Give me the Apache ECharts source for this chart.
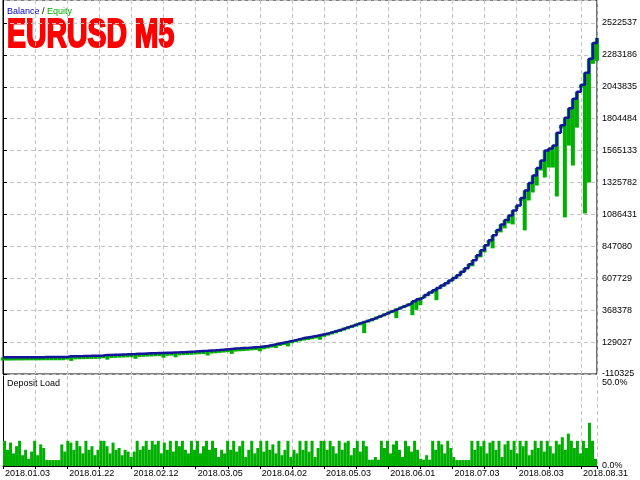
<!DOCTYPE html>
<html><head><meta charset="utf-8">
<script src="https://cdn.jsdelivr.net/npm/echarts@6/dist/echarts.min.js"></script>
<style>html,body{margin:0;padding:0;background:#fff}#c{width:640px;height:480px}</style>
</head><body><div id="c"></div>
<script>
const dateLabels = ['2018.01.03','2018.01.22','2018.02.12','2018.03.05','2018.04.02','2018.05.03','2018.06.01','2018.07.03','2018.08.03','2018.08.31'];
const yTickLabels = ['-110325','129027','368378','607729','847080','1086431','1325782','1565133','1804484','2043835','2283186','2522537'];
const depositTickLabels = ['0.0%','50.0%'];

const balance = [
14600,14600,14600,15300,15300,15300,16100,16100,16100,16100,
16800,16800,16800,16800,16800,16800,22100,22800,23600,24300,
25100,25800,26600,27300,28100,31800,32500,34000,34800,36300,
37000,38500,39300,40800,41500,43000,44500,45200,46800,47500,
49000,49700,51200,52000,53500,55000,56500,58000,60200,61700,
63200,65400,66900,69200,72200,74400,77400,80400,81900,84100,
85600,87900,90900,93100,96100,99100,105100,111800,117800,123800,
130500,136500,144000,151500,159000,164200,168700,173900,179900,186600,
192600,201600,209800,218800,228500,239000,248700,258400,268900,278600,
288400,298800,308500,321300,333200,346000,358700,370600,383300,396100,
408000,420700,435700,450700,465600,482800,500800,518000,535200,553100,
570300,590500,610000,630200,656400,682500,712400,742400,779800,817200,
854600,891900,929400,970500,1011600,1045300,1079000,1116300,1153700,1209800,
1265900,1322000,1378100,1434200,1490300,1565100,1580100,1602500,1699900,1755800,
1812000,1883000,1954100,2006400,2058800,2148500,2253300,2372900,2410300
];
const equityLow = [
-9400,-9400,-9400,-8700,-8700,-8700,-7900,-7900,-7900,-7900,
-7200,-7200,-7200,-7200,-7200,-7200,-1900,-12200,-400,300,
1100,1800,2600,3300,4100,7800,-2500,10000,10800,12300,
13000,14500,15300,3800,17500,19000,20500,21200,22800,23500,
12000,25700,27200,15000,29500,31000,32500,34000,36200,37700,
39200,28400,42900,45200,48200,50400,53400,40400,57900,60100,
61600,63900,66900,69100,60100,75100,81100,87800,84800,99800,
106500,96500,120000,127500,135000,140200,144700,149900,155900,146600,
168600,177600,185800,194800,204500,215000,224700,234400,244900,254600,
196400,274800,284500,297300,309200,322000,334700,346600,308500,372100,
384000,396700,330700,370700,405600,458800,476800,494000,443200,529100,
546300,566500,586000,606200,632400,658500,688400,697400,755800,764800,
802200,867900,832100,946500,951800,981700,1019100,1011600,1129700,1185800,
966800,1191100,1251000,1303300,1415500,1363200,1438000,1438000,1221000,1731800,
1064000,1602500,1453000,1737200,2036400,1093900,1325800,2216000,2238300
];
const depositLoad = [
14,9,13,7,11,14,6,9,4,8,14,6,12,10,
3.3,3.3,3.3,3.3,3.3,
12,8,14,13,9,14,11,7,14,9,11,6,9,14,14,
11,7,13,9,10,6,9,8,5,
8,14,9,11,14,9,14,12,14,7,13,9,14,8,14,11,14,9,7,
14,9,14,7,11,14,9,14,10,5,9,7,14,9,14,8,11,14,5,
9,14,7,10,14,8,14,9,12,7,14,6,9,14,5,9,7,14,9,14,8,14,5,10,14,
14,9,14,11,7,14,9,13,14,6,10,14,8,14,11,
3.5,3.5,5,3.5,
14,10,14,7,12,14,9,5,14,11,8,14,9,
4,3.5,6,3.5,
14,9,14,12,7,14,10,5,
3.3,3.3,3.3,3.3,3.3,
14,9,14,11,14,7,13,14,9,14,5,12,14,9,14,7,14,11,14,6,9,14,10,14,8,14,11,7,14,
12,16,9,18,14,10,14,7,14,10,24,14,4
];

const Y_MIN = -110325;
const Y_STEP = 239351.09;
const MAIN_H = 375;
const Y_MAX = MAIN_H / 32 * Y_STEP;
const FONT = 'Liberation Sans';
const GREEN = '#00b000';
const BLUE = '#14149c';
const dash = {show:true, lineStyle:{color:'#c4c4c4', type:[4,3], width:1}};

const chart = echarts.init(document.getElementById('c'), null, {renderer:'canvas'});
chart.setOption({
  animation:false,
  backgroundColor:'#fff',
  grid:[
    {left:3, right:43, top:-1, bottom:106, show:true, borderColor:'#000', borderWidth:1, backgroundColor:'transparent'},
    {left:3, right:43, top:376, bottom:14}
  ],
  xAxis:[
    {type:'category', gridIndex:0, data:balance.map((_,i)=>i), boundaryGap:false, show:false},
    {type:'value', gridIndex:0, min:0, max:148, interval:8, axisLine:{show:false}, axisTick:{show:false}, axisLabel:{show:false}, splitLine:dash},
    {type:'category', gridIndex:1, data:depositLoad.map((_,i)=>i), position:'top',
      axisLine:{show:true, lineStyle:{color:'#000', width:1}}, axisTick:{show:false}, axisLabel:{show:false}},
    {type:'value', gridIndex:1, min:0, max:148, interval:8, position:'bottom',
      axisLine:{show:false}, axisTick:{show:true, length:3, lineStyle:{color:'#000'}},
      axisLabel:{show:true, fontFamily:FONT, fontSize:9, color:'#000', align:'left', margin:3, padding:[0,0,0,2],
        formatter:v => (v % 16 === 0 && dateLabels[v/16]) ? dateLabels[v/16] : ''},
      splitLine:dash}
  ],
  yAxis:[
    {type:'value', gridIndex:0, position:'right', min:0, max:Y_MAX, interval:Y_STEP,
      axisLine:{show:true, lineStyle:{color:'#000'}}, axisTick:{show:true, length:4, lineStyle:{color:'#000'}},
      axisLabel:{fontFamily:FONT, fontSize:9, color:'#000', margin:5, showMaxLabel:false,
        formatter:v => { const k = Math.round(v / Y_STEP); return yTickLabels[k] || ''; }},
      splitLine:dash},
    {type:'value', gridIndex:1, position:'right', min:0, max:50, interval:50,
      axisLine:{show:true, lineStyle:{color:'#000'}}, axisTick:{show:false},
      axisLabel:{fontFamily:FONT, fontSize:9, color:'#000', margin:5, verticalAlign:'top', padding:[2,0,0,0],
        formatter:v => v === 50 ? depositTickLabels[1] : ''},
      splitLine:{show:false}},
    {type:'value', gridIndex:1, position:'right', min:0, max:50, interval:50,
      axisLine:{show:false}, axisTick:{show:false},
      axisLabel:{fontFamily:FONT, fontSize:9, color:'#000', margin:5, verticalAlign:'middle',
        formatter:v => v === 0 ? depositTickLabels[0] : ''},
      splitLine:{show:false}},
    {type:'value', gridIndex:1, position:'left', min:0, max:50,
      axisLine:{show:true, lineStyle:{color:'#000'}}, axisTick:{show:false}, axisLabel:{show:false}, splitLine:{show:false}}
  ],
  series:[
    {type:'bar', xAxisIndex:0, yAxisIndex:0, stack:'eq', barWidth:4, silent:true,
      itemStyle:{color:'rgba(0,0,0,0)'}, data:equityLow.map(v => v - Y_MIN)},
    {type:'bar', xAxisIndex:0, yAxisIndex:0, stack:'eq', barWidth:4, silent:true,
      itemStyle:{color:GREEN}, data:balance.map((b,i) => b - equityLow[i])},
    {type:'line', xAxisIndex:0, yAxisIndex:0, step:'end', symbol:'none', silent:true,
      lineStyle:{color:BLUE, width:2.5}, data:balance.map(v => v - Y_MIN)},
    {type:'bar', xAxisIndex:2, yAxisIndex:1, barCategoryGap:'0%', silent:true,
      itemStyle:{color:GREEN}, data:depositLoad}
  ],
  graphic:[
    {type:'text', left:7, top:7, silent:true, style:{
      text:'{b|Balance} {s|/} {e|Equity}', font:'9px Liberation Sans',
      rich:{b:{fill:'#0000c0', font:'9px Liberation Sans'}, s:{fill:'#000', font:'9px Liberation Sans'}, e:{fill:GREEN, font:'9px Liberation Sans'}}}},
    {type:'text', x:7, y:16, scaleX:0.71, silent:true, style:{
      text:'EURUSD M5', fill:'#ff0000', stroke:'#ff0000', lineWidth:2,
      font:'bold 40px "Liberation Sans", sans-serif', textVerticalAlign:'top'}},
    {type:'text', left:7, top:379, silent:true, style:{text:'Deposit Load', fill:'#000', font:'9px Liberation Sans'}}
  ]
});
</script></body></html>
